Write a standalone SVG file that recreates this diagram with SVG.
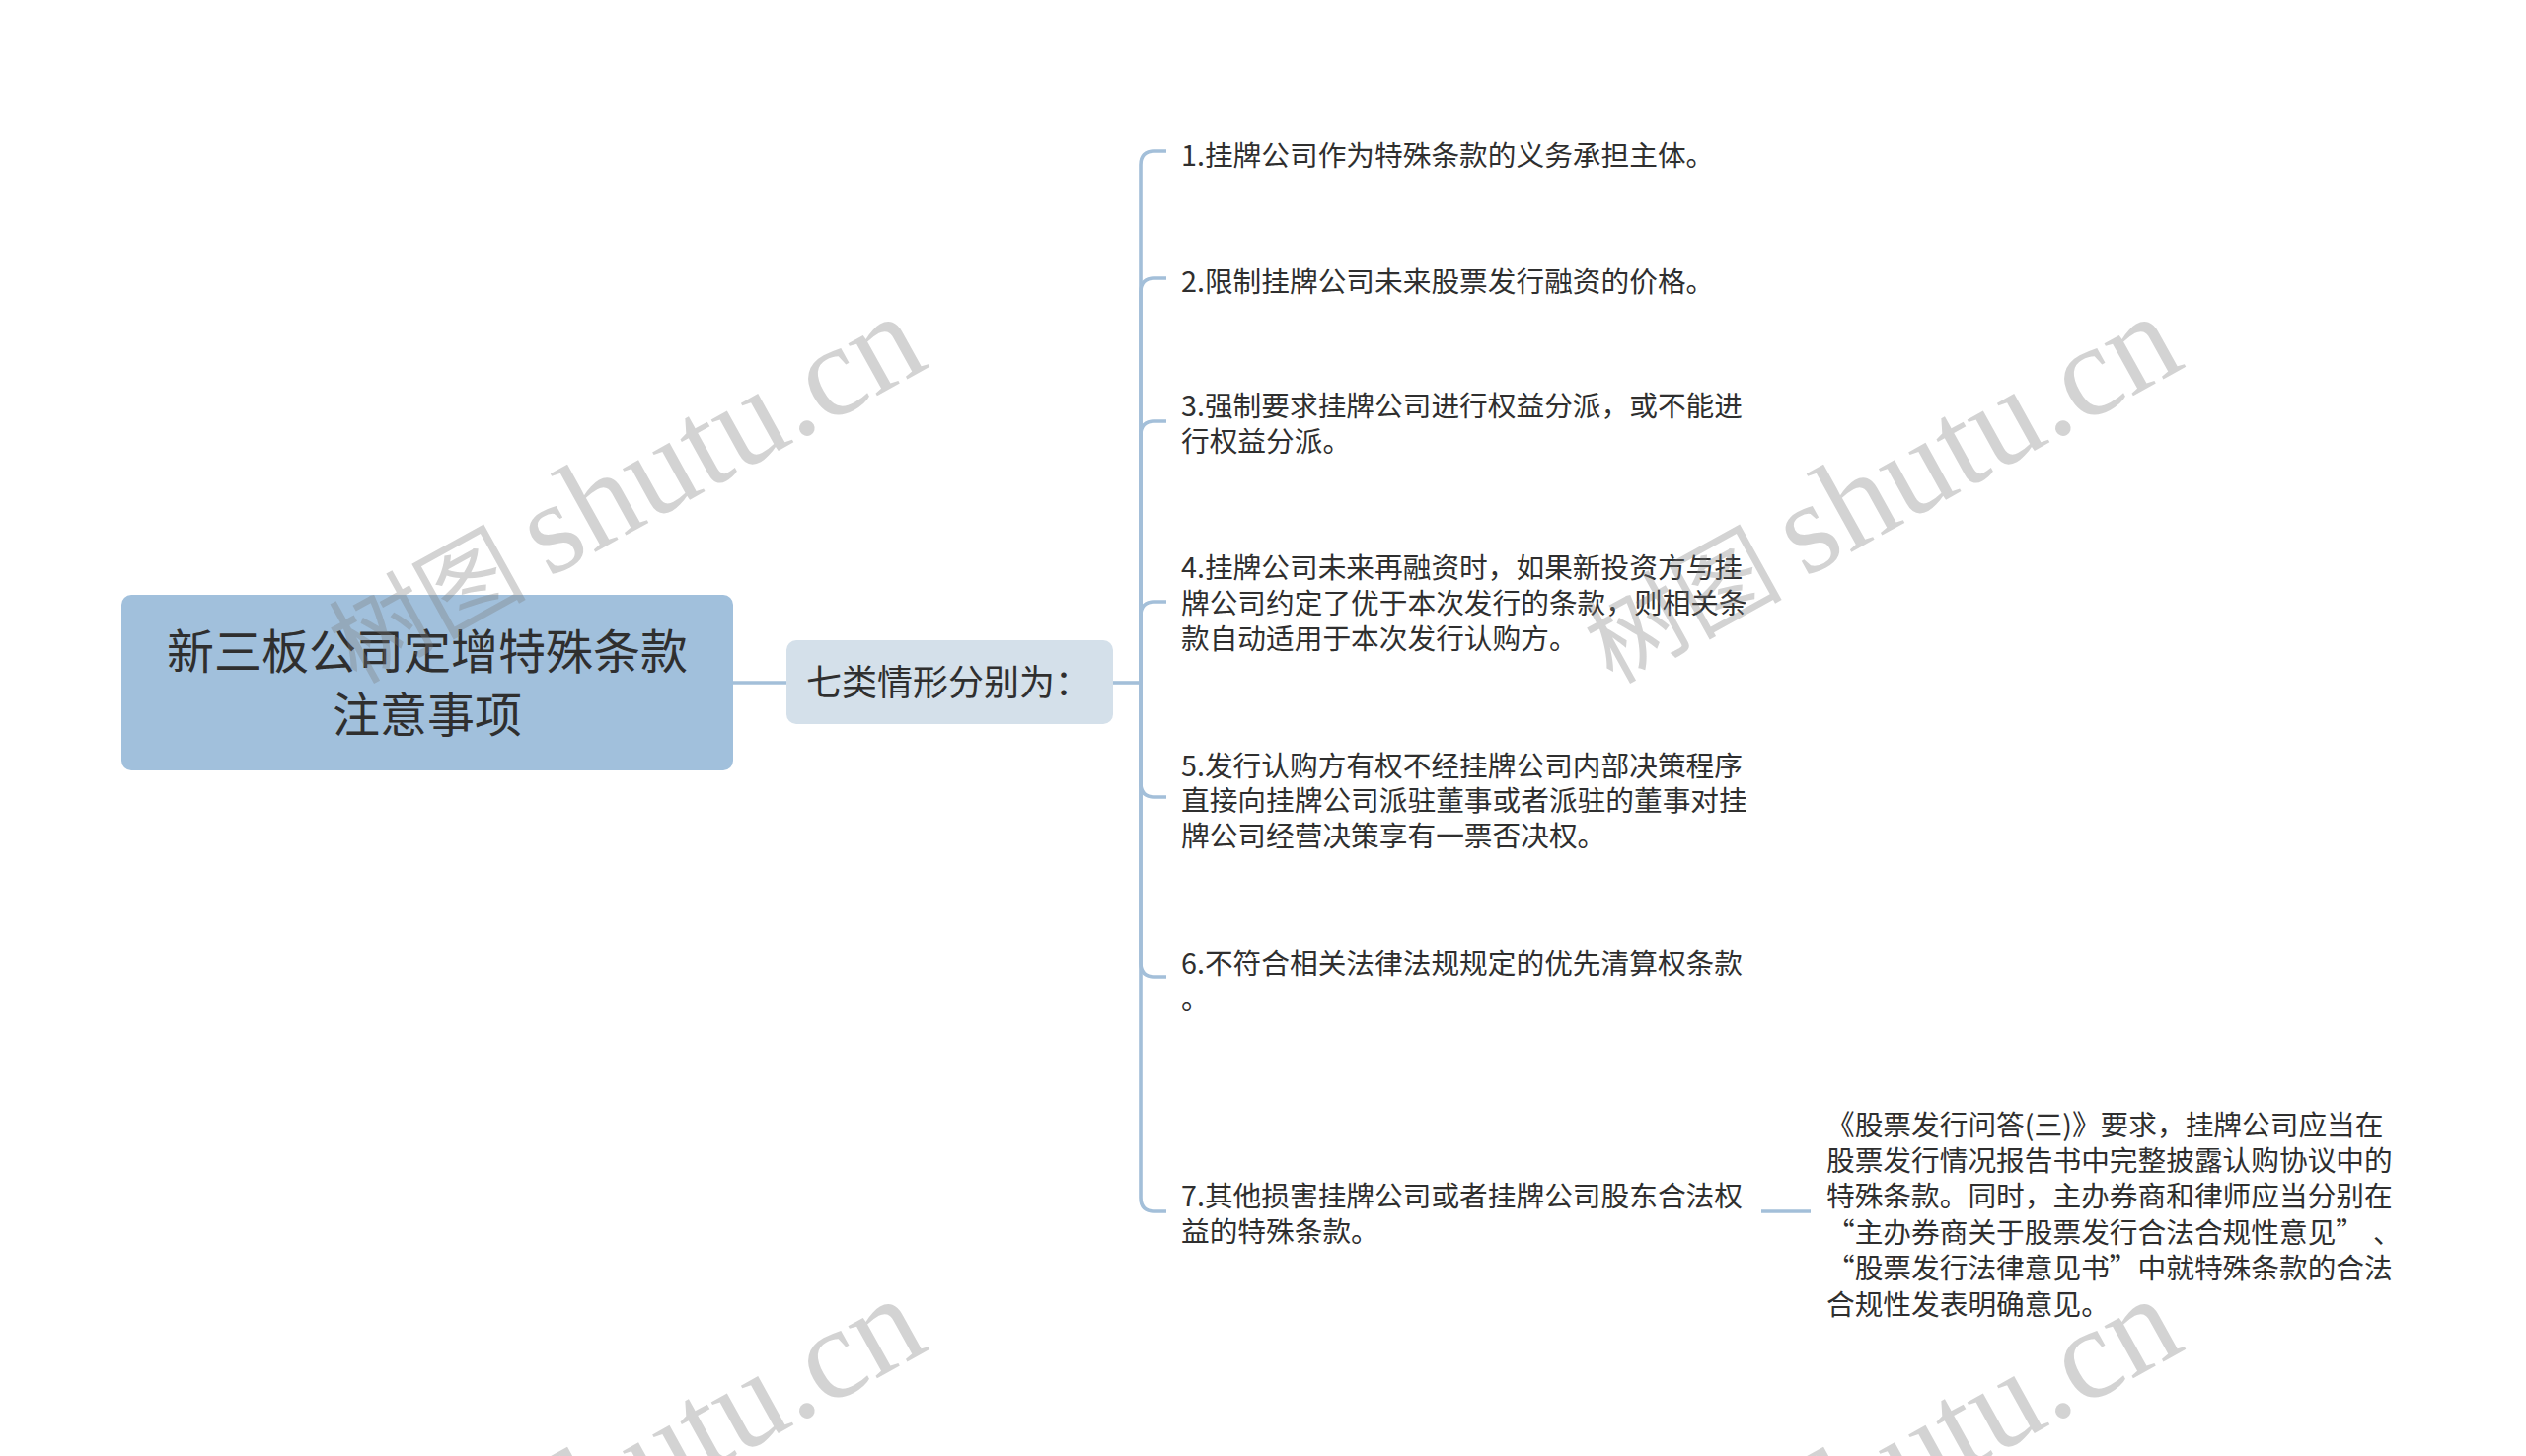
<svg xmlns="http://www.w3.org/2000/svg" width="2560" height="1476" viewBox="0 0 2560 1476">
<style>
.bg{fill:#ffffff}
.root rect{fill:#a1c0dc}
.sub rect{fill:#d4e0ea}
.t{font-family:"Noto Sans CJK SC","Noto Sans",sans-serif;fill:#2f2f2f}
.rt{font-size:48px}
.st{font-size:36px}
.it{font-size:28.7px}
.conn path{fill:none;stroke:#a3bfd9;stroke-width:3.6;stroke-linecap:butt}
.wm{fill:#7a7a7a;fill-opacity:0.33}
.wmc{font-family:"Noto Sans CJK SC",sans-serif;font-size:100px}
.wml{font-family:"Liberation Serif",serif;font-size:132px}
</style>
<rect class="bg" x="0" y="0" width="2560" height="1476"/>
<g class="conn" id="connectors">
<path d="M743,692 L797,692"/>
<path d="M1128,692 L1156,692"/>
<path d="M1156,692 L1156,167 Q1156,153 1170,153 L1182,153"/>
<path d="M1156,692 L1156,296 Q1156,282 1170,282 L1182,282"/>
<path d="M1156,692 L1156,441 Q1156,427 1170,427 L1182,427"/>
<path d="M1156,692 L1156,624 Q1156,610 1170,610 L1182,610"/>
<path d="M1156,692 L1156,794 Q1156,808 1170,808 L1182,808"/>
<path d="M1156,692 L1156,976 Q1156,990 1170,990 L1182,990"/>
<path d="M1156,692 L1156,1214 Q1156,1228 1170,1228 L1182,1228"/>
<path d="M1785,1228 L1835,1228"/>
</g>
<g id="root" class="root">
<rect x="123" y="603" width="620" height="178" rx="10"/>
<text class="t rt" x="433" y="678" text-anchor="middle">新三板公司定增特殊条款</text>
<text class="t rt" x="433" y="742" text-anchor="middle">注意事项</text>
</g>
<g id="sub" class="sub">
<rect x="797" y="649" width="331" height="85" rx="10"/>
<text class="t st" x="817" y="705">七类情形分别为：</text>
</g>
<g id="item1"><text class="t it" x="1197" y="168">1.挂牌公司作为特殊条款的义务承担主体。</text></g>
<g id="item2"><text class="t it" x="1197" y="296">2.限制挂牌公司未来股票发行融资的价格。</text></g>
<g id="item3"><text class="t it" x="1197" y="422">3.强制要求挂牌公司进行权益分派，或不能进</text><text class="t it" x="1197" y="458">行权益分派。</text></g>
<g id="item4"><text class="t it" x="1197" y="586">4.挂牌公司未来再融资时，如果新投资方与挂</text><text class="t it" x="1197" y="622">牌公司约定了优于本次发行的条款，则相关条</text><text class="t it" x="1197" y="658">款自动适用于本次发行认购方。</text></g>
<g id="item5"><text class="t it" x="1197" y="787">5.发行认购方有权不经挂牌公司内部决策程序</text><text class="t it" x="1197" y="822">直接向挂牌公司派驻董事或者派驻的董事对挂</text><text class="t it" x="1197" y="858">牌公司经营决策享有一票否决权。</text></g>
<g id="item6"><text class="t it" x="1197" y="987">6.不符合相关法律法规规定的优先清算权条款</text><text class="t it" x="1197" y="1023">。</text></g>
<g id="item7"><text class="t it" x="1197" y="1223">7.其他损害挂牌公司或者挂牌公司股东合法权</text><text class="t it" x="1197" y="1259">益的特殊条款。</text></g>
<g id="note">
<text class="t it" x="1851" y="1151">《股票发行问答(三)》要求，挂牌公司应当在</text>
<text class="t it" x="1851" y="1187">股票发行情况报告书中完整披露认购协议中的</text>
<text class="t it" x="1851" y="1223">特殊条款。同时，主办券商和律师应当分别在</text>
<text class="t it" x="1851" y="1260">“主办券商关于股票发行合法合规性意见”<tspan x="2405">、</tspan></text>
<text class="t it" x="1851" y="1296">“股票发行法律意见书”中就特殊条款的合法</text>
<text class="t it" x="1851" y="1333">合规性发表明确意见。</text>
</g>
<g id="watermarks" class="wm">
<g transform="translate(361,694) rotate(-29)"><text class="wmc" x="0" y="0">树图</text><text class="wml" x="223" y="0">shutu.cn</text></g>
<g transform="translate(1634,694) rotate(-29)"><text class="wmc" x="0" y="0">树图</text><text class="wml" x="223" y="0">shutu.cn</text></g>
<g transform="translate(361,1690) rotate(-29)"><text class="wmc" x="0" y="0">树图</text><text class="wml" x="223" y="0">shutu.cn</text></g>
<g transform="translate(1634,1690) rotate(-29)"><text class="wmc" x="0" y="0">树图</text><text class="wml" x="223" y="0">shutu.cn</text></g>
</g>
</svg>
